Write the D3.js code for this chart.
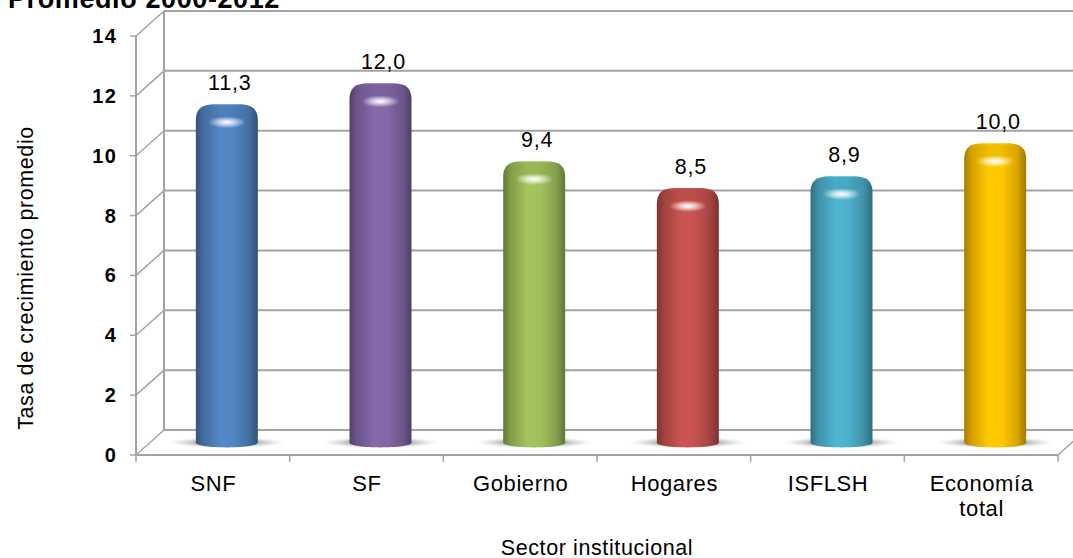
<!DOCTYPE html>
<html>
<head>
<meta charset="utf-8">
<script src="https://cdn.jsdelivr.net/npm/d3@7"></script>
<style>
  html, body { margin: 0; padding: 0; background: #fff; }
  svg { display: block; font-family: "Liberation Sans", Arial, sans-serif; }
</style>
</head>
<body>
<svg id="chart" width="1073" height="558"></svg>
<script>
// Average growth rate by institutional sector, 2000-2012
const categories = ["SNF", "SF", "Gobierno", "Hogares", "ISFLSH", "Economía total"];
const values = [11.3, 12.0, 9.4, 8.5, 8.9, 10.0];
const colors = ["#4F81BD", "#8064A2", "#9BBB59", "#C0504D", "#4BACC6", "#FFC000"];
const yTicks = [0, 2, 4, 6, 8, 10, 12, 14];

const svg = d3.select("#chart");
const W = 1073, H = 558;

// front plane of the plot box, with a depth offset toward the back wall
const depth = { dx: 28, dy: -25 };
const x0 = 136, x1 = 1058;
const x = d3.scaleBand().domain(categories).range([x0, x1]);
const y = d3.scaleLinear().domain([0, 14]).range([455, 36]);

const gridColor = "#a3a3a3";
const defs = svg.append("defs");

// title (partly above the top edge)
svg.append("text")
  .attr("x", 8).attr("y", 8)
  .attr("font-size", 27).attr("font-weight", "bold")
  .attr("letter-spacing", 0.6)
  .attr("fill", "#000")
  .text("Promedio 2000-2012");

const grid = svg.append("g").attr("stroke", gridColor).attr("fill", "none");

// back wall gridlines
yTicks.forEach(t => {
  grid.append("line")
    .attr("x1", x0 + depth.dx).attr("x2", W + 20)
    .attr("y1", y(t) + depth.dy).attr("y2", y(t) + depth.dy)
    .attr("stroke-width", 2);
});
// back wall left edge
grid.append("line")
  .attr("x1", x0 + depth.dx).attr("x2", x0 + depth.dx)
  .attr("y1", y(0) + depth.dy).attr("y2", y(14) + depth.dy)
  .attr("stroke-width", 2);
// side wall diagonals from the value axis
yTicks.forEach(t => {
  grid.append("line")
    .attr("x1", x0).attr("y1", y(t))
    .attr("x2", x0 + depth.dx).attr("y2", y(t) + depth.dy)
    .attr("stroke-width", 1.5);
});
// floor: front edge and right diagonal
grid.append("line")
  .attr("x1", x0).attr("x2", x1)
  .attr("y1", y(0)).attr("y2", y(0)).attr("stroke-width", 2);
grid.append("line")
  .attr("x1", x1).attr("y1", y(0))
  .attr("x2", x1 + depth.dx).attr("y2", y(0) + depth.dy)
  .attr("stroke-width", 1.5);
// value axis line and ticks
grid.append("line")
  .attr("x1", x0).attr("x2", x0)
  .attr("y1", y(0)).attr("y2", y(14)).attr("stroke-width", 2);
yTicks.forEach(t => {
  grid.append("line")
    .attr("x1", x0 - 6).attr("x2", x0)
    .attr("y1", y(t)).attr("y2", y(t)).attr("stroke-width", 1.5);
});
// category boundary ticks
const bounds = categories.map(c => x(c)).concat([x.range()[1]]);
bounds.forEach(b => {
  grid.append("line")
    .attr("x1", b).attr("x2", b)
    .attr("y1", y(0)).attr("y2", y(0) + 7).attr("stroke-width", 1.5);
});

// value tick labels
svg.append("g").selectAll("text").data(yTicks).join("text")
  .attr("x", 117).attr("y", d => y(d) + 7)
  .attr("text-anchor", "end")
  .attr("font-size", 20).attr("font-weight", "bold")
  .attr("letter-spacing", 1.2)
  .text(d => d);

// category labels
const catG = svg.append("g").attr("font-size", 22)
  .attr("letter-spacing", 0.6).attr("text-anchor", "middle");
categories.forEach(c => {
  const words = c === "Economía total" ? ["Economía", "total"] : [c];
  const cx = x(c) + x.bandwidth() / 2 + 0.5;
  const t = catG.append("text").attr("x", cx).attr("y", 491);
  words.forEach((w, i) => {
    t.append("tspan").attr("x", cx)
      .attr("dy", i === 0 ? 0 : 25).text(w);
  });
});

// axis titles
svg.append("text")
  .attr("x", (x0 + x1) / 2).attr("y", 555)
  .attr("text-anchor", "middle").attr("font-size", 21.5)
  .attr("letter-spacing", 0.6)
  .text("Sector institucional");
svg.append("text")
  .attr("transform", "translate(33,278) rotate(-90)")
  .attr("text-anchor", "middle").attr("font-size", 21.5)
  .attr("letter-spacing", 0.6)
  .text("Tasa de crecimiento promedio");

// floor shadow gradient
const sh = defs.append("radialGradient").attr("id", "shadow");
sh.append("stop").attr("offset", "0%").attr("stop-color", "#3a3a3a").attr("stop-opacity", 0.95);
sh.append("stop").attr("offset", "50%").attr("stop-color", "#777").attr("stop-opacity", 0.6);
sh.append("stop").attr("offset", "100%").attr("stop-color", "#bbb").attr("stop-opacity", 0);

// highlight gradient
const hl = defs.append("radialGradient").attr("id", "highlight");
hl.append("stop").attr("offset", "0%").attr("stop-color", "#fff").attr("stop-opacity", 1);
hl.append("stop").attr("offset", "30%").attr("stop-color", "#fff").attr("stop-opacity", 0.75);
hl.append("stop").attr("offset", "100%").attr("stop-color", "#fff").attr("stop-opacity", 0);

// cylinders sit halfway between the front plane and the back wall
const mid = { dx: depth.dx / 2, dy: depth.dy / 2 };
const barW = 62;
const bars = svg.append("g");

categories.forEach((c, i) => {
  const base = d3.color(colors[i]);
  const gid = "body" + i;
  const g = defs.append("linearGradient").attr("id", gid)
    .attr("x1", "0%").attr("x2", "100%").attr("y1", "0%").attr("y2", "0%");
  [[0, base.darker(1.2)], [0.12, base.darker(0.5)], [0.4, base.brighter(0.15)],
   [0.62, base.brighter(0.08)], [0.86, base.darker(0.45)], [1, base.darker(1.3)]]
    .forEach(([o, col]) => g.append("stop").attr("offset", o).attr("stop-color", col.formatHex()));

  const cx = x(c) + x.bandwidth() / 2 + mid.dx;
  const by = y(0) + mid.dy;
  const ty = y(values[i]) + mid.dy;
  const l = cx - barW / 2, r = cx + barW / 2;
  const rx = 19, ry = 16, ery = 5;

  // shadow on the floor
  bars.append("ellipse")
    .attr("cx", cx).attr("cy", by)
    .attr("rx", 58).attr("ry", 5.5)
    .attr("fill", "url(#shadow)");

  // cylinder body with rounded top and elliptical base
  const p = d3.path();
  p.moveTo(l, by);
  p.lineTo(l, ty + ry);
  p.bezierCurveTo(l, ty + ry * 0.3, l + rx * 0.3, ty, l + rx, ty);
  p.lineTo(r - rx, ty);
  p.bezierCurveTo(r - rx * 0.3, ty, r, ty + ry * 0.3, r, ty + ry);
  p.lineTo(r, by);
  p.bezierCurveTo(r, by + ery * 1.3, l, by + ery * 1.3, l, by);
  p.closePath();
  bars.append("path").attr("d", p.toString()).attr("fill", `url(#${gid})`);

  // darker top face
  bars.append("ellipse")
    .attr("cx", cx).attr("cy", ty + 8)
    .attr("rx", barW / 2 - 9).attr("ry", 7)
    .attr("fill", base.darker(0.5).formatHex()).attr("opacity", 0.3);

  // specular highlight on the rim
  bars.append("ellipse")
    .attr("cx", cx).attr("cy", ty + 18)
    .attr("rx", 19).attr("ry", 6)
    .attr("fill", "url(#highlight)");

  // value label
  bars.append("text")
    .attr("x", cx + 3).attr("y", ty - 14)
    .attr("text-anchor", "middle").attr("font-size", 21.5)
    .attr("letter-spacing", 0.8)
    .text(d3.format(".1f")(values[i]).replace(".", ","));
});
</script>
</body>
</html>
